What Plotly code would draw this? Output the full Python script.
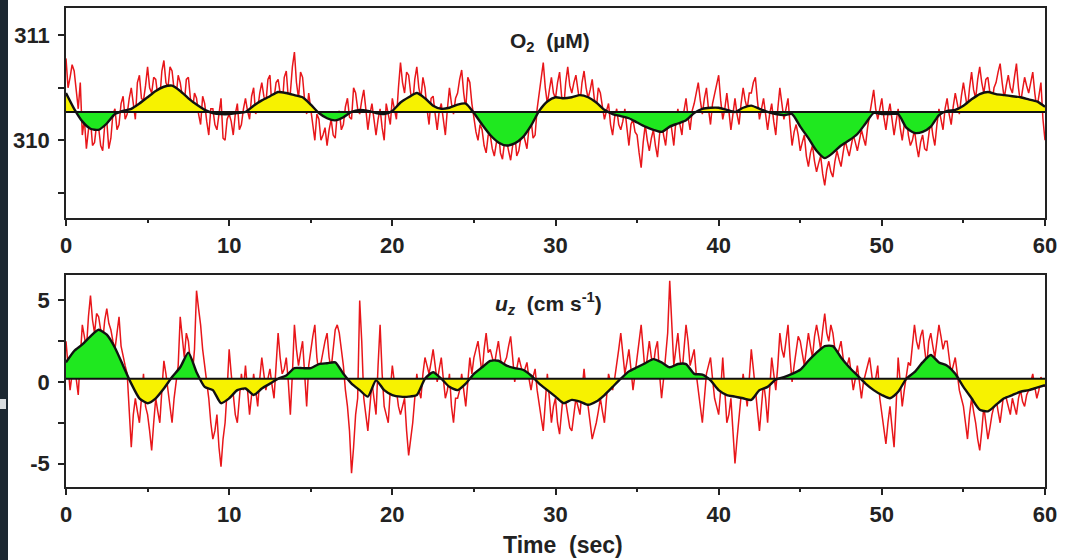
import plotly.graph_objects as go

# ---------------- DATA ----------------
# smoothed curves sampled every 0.5 s
t_smooth = [i * 0.5 for i in range(121)]
o2_smooth = [310.45, 310.30, 310.18, 310.11, 310.10, 310.16, 310.25, 310.28, 310.30, 310.35,
             310.41, 310.47, 310.51, 310.52, 310.47, 310.40, 310.34, 310.29, 310.26, 310.25,
             310.25, 310.26, 310.27, 310.33, 310.38, 310.42, 310.46, 310.45, 310.43, 310.41,
             310.34, 310.26, 310.21, 310.19, 310.22, 310.27, 310.29, 310.28, 310.26, 310.25,
             310.28, 310.36, 310.41, 310.45, 310.40, 310.33, 310.30, 310.31, 310.34, 310.35,
             310.26, 310.15, 310.05, 309.98, 309.95, 309.97, 310.03, 310.14, 310.28, 310.37,
             310.41, 310.40, 310.41, 310.43, 310.41, 310.36, 310.29, 310.25, 310.23, 310.21,
             310.17, 310.13, 310.10, 310.08, 310.13, 310.16, 310.19, 310.26, 310.30, 310.31,
             310.31, 310.29, 310.27, 310.31, 310.33, 310.30, 310.27, 310.25, 310.24, 310.25,
             310.13, 310.02, 309.90, 309.83, 309.88, 309.95, 310.00, 310.06, 310.16, 310.26,
             310.25, 310.25, 310.25, 310.12, 310.07, 310.08, 310.13, 310.24, 310.28, 310.29,
             310.33, 310.39, 310.44, 310.46, 310.44, 310.43, 310.42, 310.41, 310.39, 310.37,
             310.32]
uz_smooth = [1.2, 1.9, 2.3, 2.8, 3.2, 2.9, 2.1, 1.0, -0.1, -1.0,
             -1.3, -1.0, -0.4, 0.3, 0.9, 1.8, 0.6, -0.3, -0.5, -1.3,
             -1.0, -0.5, -0.4, -0.8, -0.4, -0.1, 0.2, 0.4, 0.85, 0.85,
             0.85, 1.1, 1.15, 1.2, 0.5, -0.1, -0.5, -0.9, 0.1, -0.5,
             -0.8, -0.9, -0.9, -0.8, 0.2, 0.6, 0.2, -0.3, -0.5, -0.1,
             0.5, 0.9, 1.3, 1.3, 1.0, 0.85, 0.75, 0.4, -0.1, -0.5,
             -0.9, -1.3, -1.1, -1.2, -1.4, -1.2, -0.8, -0.3, 0.2, 0.65,
             0.9, 1.15, 1.4, 1.2, 0.9, 1.1, 1.1, 0.5, 0.45, 0.1,
             -0.5, -0.8, -0.9, -1.0, -1.1, -0.5, -0.3, 0.15, 0.3, 0.5,
             0.75, 1.3, 1.8, 2.2, 2.2, 1.5, 0.9, 0.4, -0.1, -0.5,
             -0.8, -1.0, -0.6, 0.2, 0.6, 1.2, 1.65, 1.2, 1.0, 0.5,
             -0.3, -1.0, -1.7, -1.8, -1.4, -1.0, -0.8, -0.6, -0.5, -0.35,
             -0.2]

# raw signals: samples at t = 0, 0.25, 0.5, ... (a) and t = 0.125, 0.375, ... (b)
o2_raw_a = [
    310.78, 310.60, 310.66, 310.30, 310.05, 309.92, 310.20, 309.98,
    310.12, 309.90, 310.18, 310.02, 310.30, 310.15, 310.42, 310.25,
    310.50, 310.20, 310.62, 310.38, 310.70, 310.45, 310.58, 310.40,
    310.76, 310.50, 310.66, 310.42, 310.55, 310.35, 310.60, 310.28,
    310.40, 310.15, 310.35, 310.05, 310.30, 310.10, 310.40, 310.00,
    310.25, 310.05, 310.35, 310.15, 310.40, 310.20, 310.50, 310.30,
    310.55, 310.35, 310.62, 310.40, 310.58, 310.32, 310.66, 310.45,
    310.84, 310.40, 310.60, 310.25, 310.30, 310.00, 310.20, 310.05,
    309.95, 310.20, 310.02, 310.28, 310.15, 310.40, 310.20, 310.45,
    310.25, 310.48, 310.10, 310.35, 310.05, 310.30, 310.00, 310.25,
    310.40, 310.20, 310.74, 310.45, 310.62, 310.35, 310.70, 310.40,
    310.50, 310.15, 310.42, 310.10, 310.35, 310.05, 310.50, 310.25,
    310.45, 310.67, 310.30, 310.55, 310.20, 310.00, 310.10, 309.88,
    310.05, 309.85, 310.10, 309.82, 310.00, 309.81, 310.08, 309.90,
    310.10, 309.92, 310.20, 310.05, 310.45, 310.74, 310.35, 310.60,
    310.40, 310.65, 310.30, 310.70, 310.45, 310.62, 310.35, 310.66,
    310.40, 310.58, 310.30, 310.45, 310.20, 310.35, 310.05, 310.30,
    310.10, 310.30, 309.95, 310.20, 310.05, 309.74, 310.15, 309.90,
    310.10, 309.84, 310.20, 309.95, 310.25, 309.95, 310.30, 310.05,
    310.40, 310.10, 310.35, 310.55, 310.25, 310.50, 310.15, 310.45,
    310.62, 310.20, 310.45, 310.10, 310.40, 310.15, 310.50, 310.30,
    310.45, 310.60, 310.20, 310.40, 310.10, 310.35, 310.05, 310.50,
    310.20, 310.40, 309.95, 310.15, 309.90, 310.05, 309.75, 309.95,
    309.70, 309.85, 309.57, 309.80, 309.65, 309.90, 309.75, 310.00,
    309.85, 310.05, 309.90, 310.10, 309.95, 310.25, 310.48, 310.20,
    310.40, 310.10, 310.35, 310.05, 310.30, 310.00, 310.25, 309.95,
    310.10, 309.84, 310.05, 309.90, 310.20, 309.95, 310.30, 310.10,
    310.40, 310.15, 310.45, 310.25, 310.55, 310.30, 310.65, 310.40,
    310.70, 310.45, 310.60, 310.35, 310.55, 310.73, 310.40, 310.62,
    310.45, 310.73, 310.35, 310.60, 310.45, 310.65, 310.30, 310.55,
    310.00]
o2_raw_b = [
    310.50, 310.72, 310.45, 310.55, 310.20, 310.10, 309.95, 310.15,
    309.95, 310.15, 309.92, 310.25, 310.10, 310.35, 310.20, 310.40,
    310.35, 310.55, 310.40, 310.52, 310.50, 310.60, 310.42, 310.66,
    310.55, 310.70, 310.48, 310.62, 310.42, 310.58, 310.40, 310.45,
    310.25, 310.42, 310.18, 310.30, 310.15, 310.25, 310.02, 310.20,
    310.18, 310.25, 310.10, 310.30, 310.28, 310.42, 310.25, 310.45,
    310.42, 310.58, 310.30, 310.55, 310.45, 310.60, 310.40, 310.70,
    310.55, 310.65, 310.38, 310.45, 310.15, 310.25, 310.00, 310.12,
    310.10, 310.05, 310.25, 310.10, 310.32, 310.22, 310.50, 310.30,
    310.38, 310.30, 310.25, 310.20, 310.20, 310.12, 310.35, 310.15,
    310.28, 310.50, 310.55, 310.65, 310.45, 310.58, 310.50, 310.60,
    310.30, 310.40, 310.25, 310.28, 310.20, 310.30, 310.35, 310.40,
    310.58, 310.45, 310.60, 310.35, 310.08, 310.15, 309.95, 310.05,
    309.92, 310.00, 309.88, 309.98, 309.90, 309.95, 309.85, 310.02,
    310.00, 310.12, 310.02, 310.30, 310.58, 310.50, 310.48, 310.45,
    310.55, 310.42, 310.55, 310.52, 310.55, 310.48, 310.55, 310.50,
    310.48, 310.40, 310.50, 310.32, 310.28, 310.15, 310.22, 310.15,
    310.18, 310.12, 310.15, 310.08, 309.88, 309.98, 310.00, 310.02,
    309.95, 310.05, 310.05, 310.15, 310.10, 310.18, 310.15, 310.28,
    310.22, 310.28, 310.45, 310.38, 310.40, 310.30, 310.35, 310.55,
    310.38, 310.30, 310.28, 310.25, 310.25, 310.35, 310.38, 310.45,
    310.55, 310.38, 310.30, 310.25, 310.25, 310.18, 310.30, 310.35,
    310.30, 310.15, 310.08, 310.05, 309.98, 309.85, 309.88, 309.80,
    309.78, 309.68, 309.72, 309.70, 309.80, 309.82, 309.88, 309.92,
    309.95, 309.98, 310.00, 310.02, 310.12, 310.38, 310.30, 310.30,
    310.22, 310.25, 310.20, 310.18, 310.12, 310.15, 310.05, 310.00,
    309.95, 309.98, 309.92, 310.05, 310.05, 310.15, 310.20, 310.30,
    310.25, 310.32, 310.35, 310.42, 310.42, 310.50, 310.48, 310.58,
    310.55, 310.58, 310.45, 310.50, 310.65, 310.55, 310.52, 310.50,
    310.60, 310.50, 310.48, 310.52, 310.55, 310.45, 310.42, 310.20]
uz_raw_a = [
    2.5, -0.5, 1.0, -0.8, 3.5, 2.0, 5.3, 3.0,
    4.0, 2.5, 4.5, 3.2, 2.0, 4.0, 1.5, 0.5,
    -4.0, -1.0, -2.5, 0.5, -2.0, -4.2, -1.0, -2.5,
    1.3, -0.5, -2.5, 0.0, 4.0, 1.5, 2.5, 0.5,
    5.6, 3.5, 1.0, -1.0, -3.5, -2.0, -5.2, -2.5,
    2.0, -1.0, -2.5, 0.5, 1.0, -2.0, 0.5, -1.5,
    1.5, -0.5, 0.8, -1.0, 3.0, 0.5, 1.5, -2.0,
    3.5, 1.0, 2.5, -1.5, 2.0, 3.5, 0.5, 2.0,
    3.0, 0.8, 3.2, 3.0, 1.0, -1.5, -5.6, -2.0,
    5.0, -1.0, -3.0, 0.0, -2.0, 3.5, -1.5, -2.5,
    1.0, -0.5, -2.0, -1.0, -4.5, -2.5, 0.5, -1.0,
    1.5, 0.5, 2.0, 0.0, 1.5, -1.0, 0.5, -2.5,
    -1.0, 0.5, -1.5, 1.5, 1.5, 2.5, 0.5, 3.0,
    2.0, 1.0, 2.5, 0.5, 1.5, 2.8, 0.0, 1.5,
    0.5, 1.2, -0.5, 0.8, -1.5, -3.0, 0.5, -2.5,
    -1.0, -3.2, -0.5, -2.0, -3.0, -1.0, -2.0, 0.8,
    -1.5, -3.5, -2.5, -1.0, -2.5, 0.5, -0.5, 1.0,
    3.0, 0.5, 2.0, -0.5, 1.5, 3.5, 0.5, 2.5,
    1.0, 2.5, -1.0, 1.5, 6.2, 1.0, 3.0, 0.5,
    3.5, 1.0, 2.0, -0.5, -2.5, 0.5, 1.5, -1.0,
    -2.0, 1.5, -2.5, -1.0, -5.0, -2.0, 0.5, -1.5,
    2.0, -0.5, -3.0, 0.0, -2.5, 1.5, -0.5, 3.0,
    1.5, 3.5, 0.0, 2.0, 2.5, 1.0, 3.0, 1.5,
    3.5, 2.0, 4.2, 2.5, 3.0, 1.5, 2.5, 0.5,
    1.5, -0.5, 1.0, -1.0, 0.5, 1.5, -0.5, 1.0,
    -2.0, -3.8, -1.5, -4.0, 1.5, -1.5, 0.5, 1.0,
    3.5, 2.0, 3.2, 1.0, 3.0, 1.5, 3.5, 2.0,
    2.5, 0.5, 1.5, -0.5, -1.5, -3.5, -1.0, -2.5,
    -4.2, -1.5, -3.5, -2.0, -1.0, -2.5, -0.5, -1.5,
    -1.0, -2.0, -0.5, -1.5, -0.5, 0.5, -1.0, 0.3,
    -0.3]
uz_raw_b = [
    1.0, 0.5, 0.2, 1.5, 2.8, 4.0, 3.8, 4.2,
    3.2, 3.8, 3.6, 2.5, 3.0, 2.2, 1.0, -1.5,
    -2.0, -1.8, -1.0, -1.5, -3.0, -2.5, -1.8, -0.5,
    0.5, -1.5, -1.0, 1.0, 2.5, 3.0, 1.2, 2.0,
    4.5, 2.0, 0.0, -2.5, -3.0, -4.0, -3.5, -0.5,
    0.5, -2.0, -1.0, -0.5, -0.5, -0.8, -0.5, 0.2,
    0.5, 0.2, -0.2, 1.0, 1.5, 0.8, 0.0, 0.5,
    2.0, 1.8, 0.5, 1.0, 2.8, 1.5, 1.2, 2.5,
    1.5, 2.0, 3.5, 2.0, -0.5, -3.0, -4.0, -1.0,
    2.5, -2.0, -1.5, -1.0, 1.0, 0.5, -2.0, -0.5,
    0.0, -1.5, -1.5, -3.0, -3.5, -1.0, -0.5, 0.5,
    1.0, 1.2, 1.0, 0.8, 0.2, -0.5, -1.5, -1.0,
    -0.5, -0.5, 0.0, 0.5, 2.0, 1.5, 2.0, 1.8,
    1.5, 1.8, 1.5, 1.2, 2.2, 1.5, 0.8, 1.0,
    0.8, 0.2, 0.3, -0.5, -2.2, -1.2, -1.0, -1.5,
    -2.5, -1.8, -1.2, -2.8, -2.0, -1.5, -0.5, -0.5,
    -2.5, -3.0, -1.8, -1.8, -1.0, 0.0, 0.2, 2.0,
    1.5, 1.2, 0.8, 0.5, 2.5, 2.0, 1.5, 1.5,
    2.0, 0.5, 0.2, 3.0, 3.5, 2.0, 1.5, 2.0,
    2.5, 1.5, 0.5, -1.5, -1.0, 1.0, 0.2, -1.5,
    -0.5, -0.5, -2.0, -3.0, -3.5, -1.0, -0.5, 0.2,
    0.8, -1.8, -1.5, -1.0, -0.5, 0.5, 1.0, 2.0,
    2.5, 1.5, 1.0, 2.8, 1.8, 2.0, 2.2, 2.8,
    2.8, 3.2, 3.0, 3.5, 2.0, 2.0, 1.5, 1.0,
    0.5, 0.2, 0.0, 0.0, 1.0, 0.5, 0.2, -1.0,
    -3.0, -2.5, -2.8, -1.5, 0.0, -0.5, 1.2, 2.5,
    2.5, 2.8, 2.0, 2.5, 2.2, 2.5, 2.8, 2.5,
    1.5, 1.0, 0.5, -1.0, -2.5, -2.0, -1.8, -3.5,
    -3.0, -2.5, -2.8, -1.5, -1.8, -1.5, -1.0, -2.0,
    -1.5, -1.0, -1.2, -0.8, 0.0, -0.3, -0.5, 0.0]
t_raw_a = [i * 0.25 for i in range(241)]
t_raw_b = [0.125 + i * 0.25 for i in range(240)]

o2_mean = 310.27
uz_mean = 0.2

o2_ticks = [309.5, 310, 310.5, 311]
o2_ticktext = ["", "310", "", "311"]
uz_ticks = [-5, -2.5, 0, 2.5, 5]
uz_ticktext = ["-5", "", "0", "", "5"]
x_ticks = [0, 10, 20, 30, 40, 50, 60]

YELLOW = "#f7f200"
GREEN = "#1fe81f"
RED = "#e8161a"
AXC = "#222222"


def merge(ta, ya, tb, yb):
    pts = sorted(list(zip(ta, ya)) + list(zip(tb, yb)))
    return [p[0] for p in pts], [p[1] for p in pts]


def split_fill(xs, ys, ref, above):
    px, py = [], []
    for i in range(len(xs)):
        if i > 0:
            y0, y1 = ys[i - 1] - ref, ys[i] - ref
            if y0 * y1 < 0:
                xc = xs[i - 1] + (xs[i] - xs[i - 1]) * (-y0) / (y1 - y0)
                px.append(xc)
                py.append(ref)
        py.append(max(ys[i], ref) if above else min(ys[i], ref))
        px.append(xs[i])
    return px + [xs[-1], xs[0]], py + [ref, ref]


fig = go.Figure()


def add_panel(xa, ya, rt, raw, smooth, ref, col_above, col_below):
    fig.add_trace(go.Scatter(x=rt, y=raw, mode="lines",
                             line=dict(color=RED, width=1.5),
                             xaxis=xa, yaxis=ya, showlegend=False, hoverinfo="skip"))
    for above, col in ((True, col_above), (False, col_below)):
        px, py = split_fill(t_smooth, smooth, ref, above)
        fig.add_trace(go.Scatter(x=px, y=py, mode="lines", fill="toself",
                                 fillcolor=col, line=dict(width=0),
                                 xaxis=xa, yaxis=ya, showlegend=False, hoverinfo="skip"))
    fig.add_trace(go.Scatter(x=[0, 60], y=[ref, ref], mode="lines",
                             line=dict(color="#111111", width=2),
                             xaxis=xa, yaxis=ya, showlegend=False, hoverinfo="skip"))
    fig.add_trace(go.Scatter(x=t_smooth, y=smooth, mode="lines",
                             line=dict(color="#111111", width=2.4, shape="spline", smoothing=0.6),
                             xaxis=xa, yaxis=ya, showlegend=False, hoverinfo="skip"))


o2_t, o2_raw = merge(t_raw_a, o2_raw_a, t_raw_b, o2_raw_b)
uz_t, uz_raw = merge(t_raw_a, uz_raw_a, t_raw_b, uz_raw_b)
add_panel("x", "y", o2_t, o2_raw, o2_smooth, o2_mean, YELLOW, GREEN)
add_panel("x2", "y2", uz_t, uz_raw, uz_smooth, uz_mean, GREEN, YELLOW)

W, H = 1069, 560
xdom = [66 / W, 1045 / W]
FONT = "Liberation Sans"
tickfont = dict(family=FONT, size=22, color=AXC, weight="bold")

common_x = dict(range=[0, 60], tickvals=x_ticks, ticks="outside", ticklen=6, tickwidth=1.8,
                tickcolor=AXC, showline=True, linecolor=AXC, linewidth=1.8, mirror=True,
                showgrid=False, zeroline=False, tickfont=tickfont, ticklabelstandoff=1,
                automargin=False,
                minor=dict(dtick=5, tick0=0, ticks="outside", ticklen=3, tickwidth=1.8,
                           tickcolor=AXC, showgrid=False),
                domain=xdom, fixedrange=True)
common_y = dict(ticks="outside", ticklen=6, tickwidth=1.8, tickcolor=AXC, showline=True,
                linecolor=AXC, linewidth=1.8, mirror=True, showgrid=False, zeroline=False,
                tickfont=tickfont, ticklabelstandoff=4, automargin=False, fixedrange=True)

ann_common = dict(xref="paper", yref="paper", showarrow=False, xanchor="center", yanchor="middle")

fig.update_layout(
    width=W, height=H,
    margin=dict(l=0, r=0, t=0, b=0, autoexpand=False),
    paper_bgcolor="white", plot_bgcolor="white",
    xaxis=dict(common_x, anchor="y"),
    yaxis=dict(common_y, range=[309.26, 311.26], tickvals=o2_ticks, ticktext=o2_ticktext,
               domain=[(H - 218) / H, (H - 8) / H], anchor="x"),
    xaxis2=dict(common_x, anchor="y2"),
    yaxis2=dict(common_y, range=[-6.44, 6.56], tickvals=uz_ticks, ticktext=uz_ticktext,
                domain=[(H - 487) / H, (H - 275) / H], anchor="x2"),
    annotations=[
        dict(ann_common, text="O<sub>2</sub>&nbsp;&nbsp;(µM)", x=550 / W, y=1 - 42 / H,
             font=dict(family=FONT, size=21, color=AXC, weight="bold")),
        dict(ann_common, text="<i>u<sub>z</sub></i>&nbsp;&nbsp;(cm s<sup>-1</sup>)", x=548 / W, y=1 - 303 / H,
             font=dict(family=FONT, size=21, color=AXC, weight="bold")),
        dict(ann_common, text="Time&nbsp;&nbsp;(sec)", x=563 / W, y=1 - 545 / H,
             font=dict(family=FONT, size=23, color=AXC, weight="bold")),
    ],
    shapes=[
        dict(type="rect", xref="paper", yref="paper", x0=0, x1=8 / W, y0=0, y1=1,
             fillcolor="#1c2731", line=dict(width=0), layer="above"),
        dict(type="rect", xref="paper", yref="paper", x0=0, x1=6 / W,
             y0=1 - 409 / H, y1=1 - 399 / H, fillcolor="#d9dde0", line=dict(width=0), layer="above"),
    ],
)

fig.write_html("out.html", config={"displayModeBar": False},
               post_script="document.body.style.margin='0';document.body.style.overflow='hidden';")
